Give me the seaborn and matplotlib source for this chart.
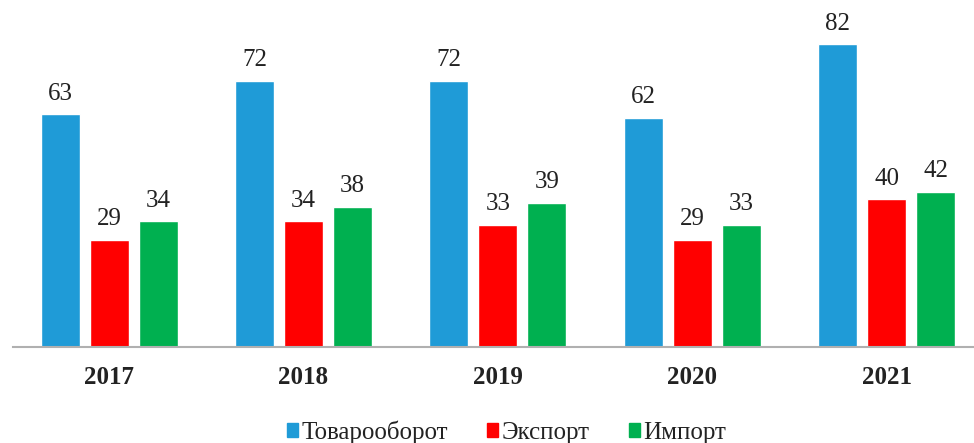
import matplotlib
matplotlib.use('Agg')
import matplotlib.pyplot as plt
import seaborn as sns
import pandas as pd

# данные
years = ['2017', '2018', '2019', '2020', '2021']
series = ['Товарооборот', 'Экспорт', 'Импорт']
turnover = [63, 72, 72, 62, 82]
export = [29, 34, 33, 29, 40]
imports = [34, 38, 39, 33, 42]
colors = ['#1F9BD7', '#FF0000', '#00B050']

rows = []
for i, y in enumerate(years):
    rows.append({'year': y, 'series': series[0], 'value': turnover[i]})
    rows.append({'year': y, 'series': series[1], 'value': export[i]})
    rows.append({'year': y, 'series': series[2], 'value': imports[i]})
df = pd.DataFrame(rows)

sns.set_style('white')
plt.rcParams['font.family'] = ['Liberation Serif', 'DejaVu Serif']

fig = plt.figure(figsize=(9.74, 4.43), dpi=100)
ax = fig.add_axes([13 / 974, 96 / 443, 961 / 974, 347 / 443])

sns.barplot(data=df, x='year', y='value', hue='series', hue_order=series,
            palette=colors, width=0.756, gap=0.2, saturation=1,
            legend=False, ax=ax)

for cont in ax.containers:
    ax.bar_label(cont, padding=7, fontsize=18, color='#222222')

ax.set_xlim(-0.495, 4.45)
ax.set_ylim(0, 94)
ax.set_xlabel('')
ax.set_ylabel('')
ax.set_yticks([])
ax.tick_params(axis='x', length=0, pad=14)
for lbl in ax.get_xticklabels():
    lbl.set_fontweight('bold')
    lbl.set_fontsize(18)
    lbl.set_color('#222222')

for side in ['top', 'right', 'left']:
    ax.spines[side].set_visible(False)
ax.spines['bottom'].set_color('#B0B0B0')
ax.spines['bottom'].set_linewidth(1.5)

handles = [plt.Rectangle((0, 0), 1, 1, color=c) for c in colors]
fig.legend(handles, series, loc='center', bbox_to_anchor=(0.52, 0.024),
           ncol=3, frameon=False, fontsize=18, handlelength=0.45,
           handleheight=0.45, handletextpad=0.15, columnspacing=1.55,
           labelcolor='#222222')

fig.savefig('out.png', dpi=100)
